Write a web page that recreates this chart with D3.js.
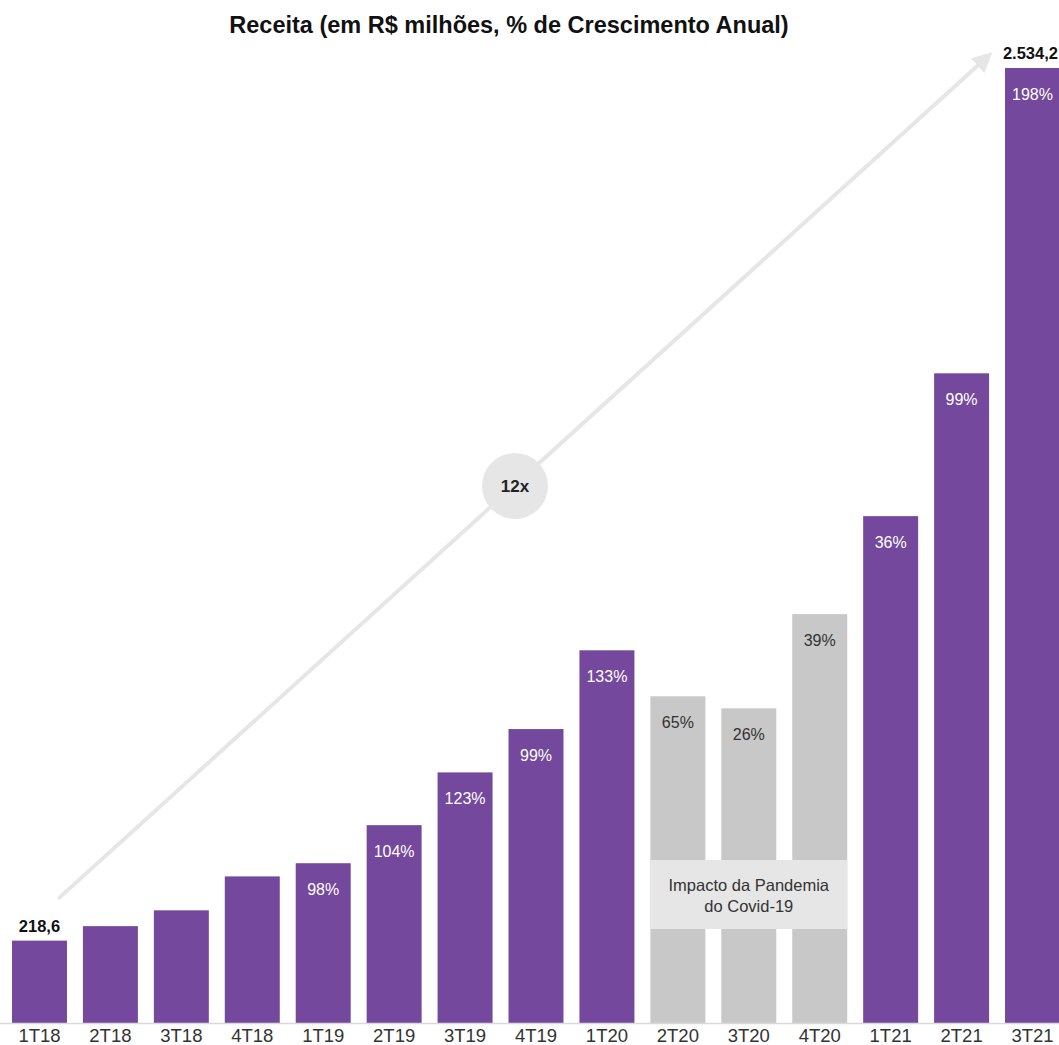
<!DOCTYPE html>
<html><head><meta charset="utf-8">
<script src="https://cdn.jsdelivr.net/npm/d3@7"></script>
<style>html,body{margin:0;padding:0;background:#fff;overflow:hidden}</style>
</head><body>
<script>
const categories = ["1T18","2T18","3T18","4T18","1T19","2T19","3T19","4T19","1T20","2T20","3T20","4T20","1T21","2T21","3T21"];
const revenue = [218.6, 257, 299, 389, 424, 525, 665, 780, 989, 867, 835, 1085, 1345, 1724, 2534.2];
const growth = [null, null, null, null, "98%", "104%", "123%", "99%", "133%", "65%", "26%", "39%", "36%", "99%", "198%"];
const pandemic = [false,false,false,false,false,false,false,false,false,true,true,true,false,false,false];
const valueLabels = ["218,6", null, null, null, null, null, null, null, null, null, null, null, null, null, "2.534,2"];
const title = "Receita (em R$ milhões, % de Crescimento Anual)";
const multipleLabel = "12x";
const noteLines = ["Impacto da Pandemia", "do Covid-19"];

const W = 1059, H = 1045;
const font = "Arial, 'Liberation Sans', Helvetica, sans-serif";
const svg = d3.select("body").append("svg").attr("width", W).attr("height", H).style("font-family", font);

const x = d3.scaleBand().domain(categories).range([4, 1068]).paddingInner(0.225).paddingOuter(0.1127);
const y = d3.scaleLinear().domain([0, 2534.2]).range([1023, 68]);

svg.append("text").attr("x", 509).attr("y", 33).attr("text-anchor", "middle")
  .attr("font-size", 23.5).attr("font-weight", "bold").attr("fill", "#111").text(title);

// Arrow
const defs = svg.append("defs");
defs.append("marker").attr("id", "ah").attr("viewBox", "0 0 10 10").attr("refX", 5).attr("refY", 5)
  .attr("markerWidth", 5).attr("markerHeight", 5).attr("orient", "auto")
  .append("path").attr("d", "M0,0 L10,5 L0,10 z").attr("fill", "#e6e6e6");

const ax0 = x(categories[0]) + x.bandwidth() / 2 + 20, ay0 = y(revenue[0]) - 43;
const ax1 = 985, ay1 = 59;
svg.append("line").attr("x1", ax0).attr("y1", ay0).attr("x2", ax1).attr("y2", ay1)
  .attr("stroke", "#e6e6e6").attr("stroke-width", 4).attr("stroke-linecap", "round").attr("marker-end", "url(#ah)");

svg.append("circle").attr("cx", 515).attr("cy", 486).attr("r", 33).attr("fill", "#e6e6e6");
svg.append("text").attr("x", 515).attr("y", 492).attr("text-anchor", "middle").attr("font-size", 17)
  .attr("font-weight", "bold").attr("fill", "#222").text(multipleLabel);

// Bars
svg.selectAll("rect.bar").data(categories).join("rect").attr("class", "bar")
  .attr("x", d => x(d)).attr("width", x.bandwidth())
  .attr("y", (d, i) => y(revenue[i])).attr("height", (d, i) => y(0) - y(revenue[i]))
  .attr("fill", (d, i) => pandemic[i] ? "#c8c8c8" : "#74489c");

// Growth labels
svg.selectAll("text.g").data(categories).join("text").attr("class", "g")
  .attr("x", d => x(d) + x.bandwidth() / 2).attr("y", (d, i) => y(revenue[i]) + 32)
  .attr("text-anchor", "middle").attr("font-size", 16)
  .attr("fill", (d, i) => pandemic[i] ? "#333" : "#fff")
  .text((d, i) => growth[i] || "");

// Value labels
svg.selectAll("text.v").data(categories).join("text").attr("class", "v")
  .attr("x", d => x(d) + x.bandwidth() / 2).attr("y", (d, i) => y(revenue[i]) - 9)
  .attr("text-anchor", "middle").attr("font-size", 16.5).attr("font-weight", "bold").attr("fill", "#111")
  .text((d, i) => valueLabels[i] || "")
  .each(function () {
    const w = this.getComputedTextLength();
    const cx = +this.getAttribute("x");
    if (cx + w / 2 > W - 1) this.setAttribute("x", W - 1 - w / 2);
  });

// Pandemic note
const pIdx = pandemic.map((p, i) => p ? i : -1).filter(i => i >= 0);
const bx0 = x(categories[pIdx[0]]), bx1 = x(categories[pIdx[pIdx.length - 1]]) + x.bandwidth();
svg.append("rect").attr("x", bx0).attr("y", 860).attr("width", bx1 - bx0).attr("height", 69).attr("fill", "#e6e6e6");
svg.append("text").attr("x", (bx0 + bx1) / 2).attr("y", 891).attr("text-anchor", "middle").attr("font-size", 16.5).attr("fill", "#333").text(noteLines[0]);
svg.append("text").attr("x", (bx0 + bx1) / 2).attr("y", 912).attr("text-anchor", "middle").attr("font-size", 16.5).attr("fill", "#333").text(noteLines[1]);

// Axis
const xAxis = d3.axisBottom(x).tickSize(0).tickPadding(6);
const g = svg.append("g").attr("transform", `translate(0,${y(0)})`).call(xAxis);
g.select(".domain").remove();
g.selectAll("text").attr("font-size", 18.5).attr("fill", "#333").attr("font-family", font).attr("dy", "0.71em");
svg.append("line").attr("x1", 0).attr("x2", W).attr("y1", y(0) + 0.5).attr("y2", y(0) + 0.5).attr("stroke", "#d9d9d9").attr("stroke-width", 1.5);
</script>
</body></html>
